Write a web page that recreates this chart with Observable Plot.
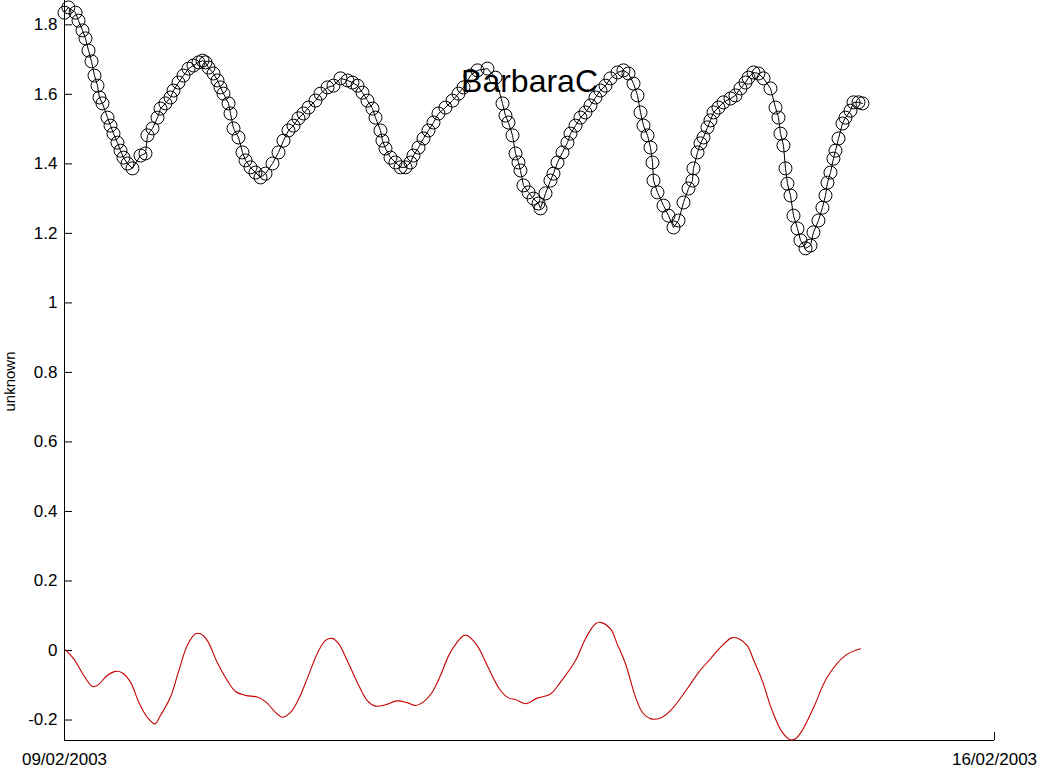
<!DOCTYPE html>
<html><head><meta charset="utf-8">
<script src="https://cdn.jsdelivr.net/npm/d3@7"></script>
<script src="https://cdn.jsdelivr.net/npm/@observablehq/plot@0.6"></script>
<style>body{margin:0;background:#fff;} svg{display:block}</style>
</head><body><div id="chart"></div>
<script>
const seriesName = "BarbaraC";
const yLabel = "unknown";
const xTickDates = [new Date(Date.UTC(2003,1,9)), new Date(Date.UTC(2003,1,16))];
const xTickLabels = ["09/02/2003", "16/02/2003"];
const yTicks = [-0.2, 0, 0.2, 0.4, 0.6, 0.8, 1, 1.2, 1.4, 1.6, 1.8];
const yDomain = [-0.2589, 1.870];

// hours since 09/02/2003 00:00 and values of the circle series
const circleHours = [0,0.7,2.0,2.53,3.25,3.79,4.34,4.88,5.42,5.96,6.32,6.86,7.77,8.31,8.85,9.57,10.12,10.66,11.38,12.28,13.73,14.63,14.99,15.90,16.80,17.34,18.24,19.15,19.69,20.59,21.50,22.40,23.30,24.21,24.93,25.47,26.01,26.92,27.64,28.18,28.72,29.63,29.99,30.53,31.43,32.15,32.70,33.60,34.50,35.41,36.31,37.57,38.66,39.56,40.46,41.37,42.27,43.17,44.08,45.34,46.24,47.51,48.59,49.86,51.12,52.02,52.93,53.83,54.73,55.64,56.18,57.08,57.44,57.99,58.89,59.79,60.70,61.60,62.50,63.04,63.95,64.85,65.75,66.66,67.56,68.82,70.09,71.17,72.08,73.34,74.60,76.41,77.86,79.12,79.66,80.20,80.93,81.47,82.01,82.37,82.91,83.82,84.72,85.63,85.99,86.89,87.79,88.33,89.06,89.96,90.86,91.40,92.31,93.21,94.11,95.02,95.92,96.82,97.73,98.63,99.90,100.98,101.88,102.79,103.51,104.05,104.59,105.32,105.86,106.22,106.40,107.12,108.21,109.11,110.01,110.92,111.82,112.72,113.44,113.62,114.35,114.89,115.43,116.15,116.69,117.24,118.14,119.04,120.31,121.21,122.11,123.02,123.56,124.46,125.36,126.27,127.53,128.44,128.98,129.34,129.88,130.24,130.60,131.15,131.69,132.41,132.95,133.86,134.76,135.30,136.20,136.92,137.47,137.83,138.37,138.91,139.27,139.82,140.54,141.08,141.98,142.53,143.43,144.15];
const circleValues = [1.835,1.850,1.835,1.812,1.784,1.761,1.726,1.695,1.654,1.625,1.591,1.574,1.533,1.510,1.487,1.461,1.438,1.418,1.401,1.387,1.424,1.430,1.482,1.502,1.533,1.559,1.574,1.591,1.611,1.634,1.654,1.674,1.683,1.692,1.697,1.692,1.677,1.660,1.640,1.620,1.602,1.574,1.545,1.502,1.476,1.433,1.410,1.390,1.375,1.361,1.372,1.401,1.433,1.467,1.496,1.510,1.531,1.545,1.562,1.582,1.602,1.620,1.625,1.646,1.640,1.634,1.625,1.605,1.582,1.559,1.533,1.496,1.467,1.444,1.418,1.404,1.390,1.390,1.404,1.424,1.447,1.473,1.496,1.519,1.545,1.562,1.582,1.602,1.620,1.654,1.669,1.674,1.648,1.574,1.539,1.519,1.482,1.430,1.404,1.381,1.338,1.318,1.300,1.286,1.272,1.315,1.352,1.372,1.404,1.433,1.461,1.487,1.510,1.533,1.548,1.568,1.591,1.611,1.625,1.646,1.663,1.669,1.660,1.631,1.597,1.548,1.510,1.482,1.447,1.404,1.352,1.318,1.280,1.251,1.217,1.237,1.289,1.329,1.352,1.387,1.433,1.459,1.476,1.505,1.525,1.548,1.562,1.577,1.588,1.597,1.617,1.634,1.648,1.663,1.660,1.646,1.617,1.562,1.533,1.487,1.453,1.387,1.343,1.309,1.251,1.214,1.180,1.157,1.165,1.203,1.237,1.274,1.309,1.346,1.375,1.415,1.438,1.473,1.516,1.533,1.553,1.577,1.577,1.574];

// hours since 09/02/2003 00:00 and values of the red series
const redHours = [0.18,1.68,3.49,5.00,5.91,7.71,9.21,10.42,11.92,13.42,14.94,16.31,17.34,19.15,20.65,22.16,23.66,24.57,25.78,27.58,29.39,30.89,32.70,34.81,36.31,38.12,39.33,40.83,42.32,43.84,45.65,47.15,48.36,49.55,51.07,52.87,54.68,56.18,57.99,60.10,61.91,63.41,64.91,66.42,67.92,69.42,70.94,72.13,72.74,74.55,76.36,78.76,80.26,81.47,83.28,85.39,87.79,89.60,92.31,94.11,95.92,96.82,98.63,99.84,101.34,103.15,104.36,105.86,107.67,109.47,112.49,114.58,116.69,118.50,120.61,121.81,123.33,124.52,126.03,127.84,129.65,131.15,132.05,133.26,135.35,137.77,141.08,143.79];
const redValues = [0.002,-0.024,-0.072,-0.103,-0.101,-0.072,-0.060,-0.064,-0.091,-0.149,-0.192,-0.211,-0.187,-0.134,-0.058,0.014,0.048,0.048,0.029,-0.034,-0.086,-0.118,-0.129,-0.134,-0.147,-0.178,-0.192,-0.178,-0.139,-0.081,-0.009,0.029,0.035,0.019,-0.029,-0.091,-0.144,-0.160,-0.156,-0.145,-0.150,-0.158,-0.147,-0.120,-0.072,-0.014,0.024,0.043,0.043,0.014,-0.043,-0.115,-0.137,-0.141,-0.153,-0.137,-0.125,-0.091,-0.029,0.034,0.077,0.081,0.062,0.019,-0.038,-0.134,-0.177,-0.196,-0.194,-0.173,-0.110,-0.062,-0.024,0.009,0.037,0.034,0.014,-0.029,-0.086,-0.173,-0.235,-0.257,-0.254,-0.230,-0.163,-0.077,-0.014,0.005];

const t0 = +xTickDates[0];
const circleData = circleHours.map((h, i) => ({date: new Date(t0 + h * 3600e3), value: circleValues[i]}));
const redData = redHours.map((h, i) => ({date: new Date(t0 + h * 3600e3), value: redValues[i]}));

const fmtX = d => xTickLabels[xTickDates.findIndex(t => +t === +d)];
const fmtY = d => String(+d.toFixed(1));

const chart = Plot.plot({
  width: 1038, height: 769,
  marginLeft: 64, marginRight: 44, marginTop: 0, marginBottom: 29,
  style: {fontFamily: "'Liberation Sans', Arial, sans-serif", fontSize: "17px", color: "black", background: "white"},
  x: {type: "utc", domain: xTickDates, label: null},
  y: {domain: yDomain, label: null},
  marks: [
    Plot.ruleX([xTickDates[0]], {stroke: "black", strokeWidth: 1}),
    Plot.ruleY([yDomain[0]], {stroke: "black", strokeWidth: 1}),
    Plot.axisY(yTicks, {tickSize: -8, tickPadding: 15, tickFormat: fmtY, label: null, fontSize: 17}),
    Plot.axisX(xTickDates, {tickSize: -8, tickPadding: 20, tickFormat: fmtX, label: null, fontSize: 17}),
    Plot.line(circleData, {x: "date", y: "value", stroke: "black", strokeWidth: 1}),
    Plot.dot(circleData, {x: "date", y: "value", r: 6.5, stroke: "black", fill: "none", strokeWidth: 1}),
    Plot.line(redData, {x: "date", y: "value", stroke: "#c40000", strokeWidth: 1.1, curve: "catmull-rom"}),
    Plot.text([yLabel], {frameAnchor: "left", textAnchor: "middle", lineAnchor: "middle", rotate: -90, dx: -54, dy: 11, fontSize: 15}),
    Plot.text([seriesName], {frameAnchor: "top", textAnchor: "middle", lineAnchor: "middle", dy: 81, fontSize: 32})
  ]
});
document.getElementById("chart").appendChild(chart);
</script>
</body></html>
